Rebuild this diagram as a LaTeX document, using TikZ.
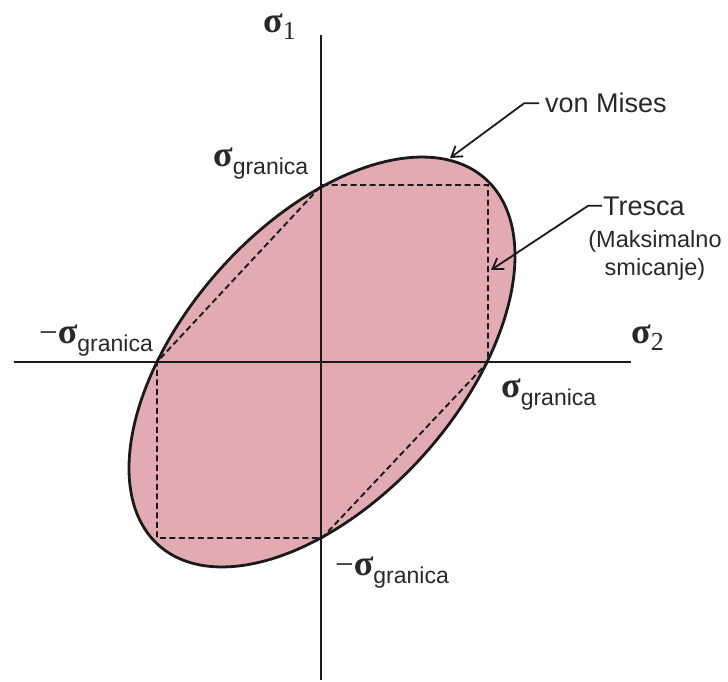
\documentclass[tikz,border=0pt]{standalone}
\usepackage{fontspec}
\setmainfont{Liberation Serif}
\newfontfamily\labsans{Liberation Sans}
\usetikzlibrary{arrows.meta}
\definecolor{fillpink}{RGB}{226,171,178}
\definecolor{ink}{RGB}{26,26,26}
\definecolor{txt}{RGB}{40,40,40}
\newcommand{\mysig}[1]{{\bfseries\fontsize{36}{36}\selectfont σ}\raisebox{-8pt}{\labsans\fontsize{23}{23}\selectfont #1}}
\newcommand{\myaxsig}[1]{{\bfseries\fontsize{36}{36}\selectfont σ}\raisebox{-7pt}{\fontsize{26}{26}\selectfont #1}}
\tikzset{
  axisline/.style={draw=ink, line width=2pt},
  vmcurve/.style={draw=ink, line width=2.8pt, fill=fillpink},
  tresca/.style={draw=ink, line width=1.9pt, dash pattern=on 6pt off 3.5pt},
  lab/.style={anchor=base west, inner sep=0pt, text=txt},
  pointer/.style={draw=ink, line width=1.8pt, -{Straight Barb[length=10pt,width=13pt,line width=1.8pt]}},
}
\begin{document}
\begin{tikzpicture}[x=1pt,y=-1pt]
\useasboundingbox (0,0) rectangle (728,682);
% ellipse (von Mises)
\path[vmcurve] plot[domain=0:360, samples=180, smooth cycle] ({322+193*cos(\x)}, {362-106.2*cos(\x)-175.3*sin(\x)});
% Tresca hexagon
\coordinate (t1) at (322,185);
\coordinate (t2) at (488,185);
\coordinate (t3) at (488,362);
\coordinate (t4) at (322,538);
\coordinate (t5) at (157,538);
\coordinate (t6) at (157,362);
\draw[tresca] (t1) -- (t2) -- (t3) -- (t4) -- (t5) -- (t6) -- cycle;
% axes
\coordinate (ytop) at (321,35);
\coordinate (ybot) at (321,680);
\coordinate (xleft) at (14,362);
\coordinate (xright) at (631,362);
\draw[axisline] (ytop) -- (ybot);
\draw[axisline] (xleft) -- (xright);
% axis labels
\node[lab] (s1) at (263,33) {\myaxsig{1}};
\node[lab] (s2) at (631,343) {\myaxsig{2}};
% limit labels
\node[lab] (gtop) at (213,167) {\mysig{granica}};
\node[lab] (gleft) at (39,343) {{\fontsize{33}{33}\selectfont −}\mysig{granica}};
\node[lab] (gright) at (501,397) {\mysig{granica}};
\node[lab] (gbot) at (335,575) {{\fontsize{33}{33}\selectfont −}\mysig{granica}};
% von Mises pointer
\node[lab, font=\labsans\fontsize{27}{27}\selectfont] (vm) at (545,113) {von Mises};
\coordinate (vmtip) at (450,158);
\draw[pointer] ([xshift=-6pt]vm.west) -- ++(-15,0) -- (vmtip);
% Tresca pointer
\node[lab, font=\labsans\fontsize{27}{27}\selectfont] (tr) at (603,215) {Tresca};
\node[anchor=base, inner sep=0pt, text=txt, font=\labsans\fontsize{23.5}{23.5}\selectfont] (tm) at (655,247) {(Maksimalno};
\node[anchor=base, inner sep=0pt, text=txt, font=\labsans\fontsize{23.5}{23.5}\selectfont] (ts) at (655,275) {smicanje)};
\coordinate (trtip) at (491,270);
\draw[pointer] ([xshift=-1pt]tr.west) -- ++(-14,0) -- (trtip);
\end{tikzpicture}
\end{document}
